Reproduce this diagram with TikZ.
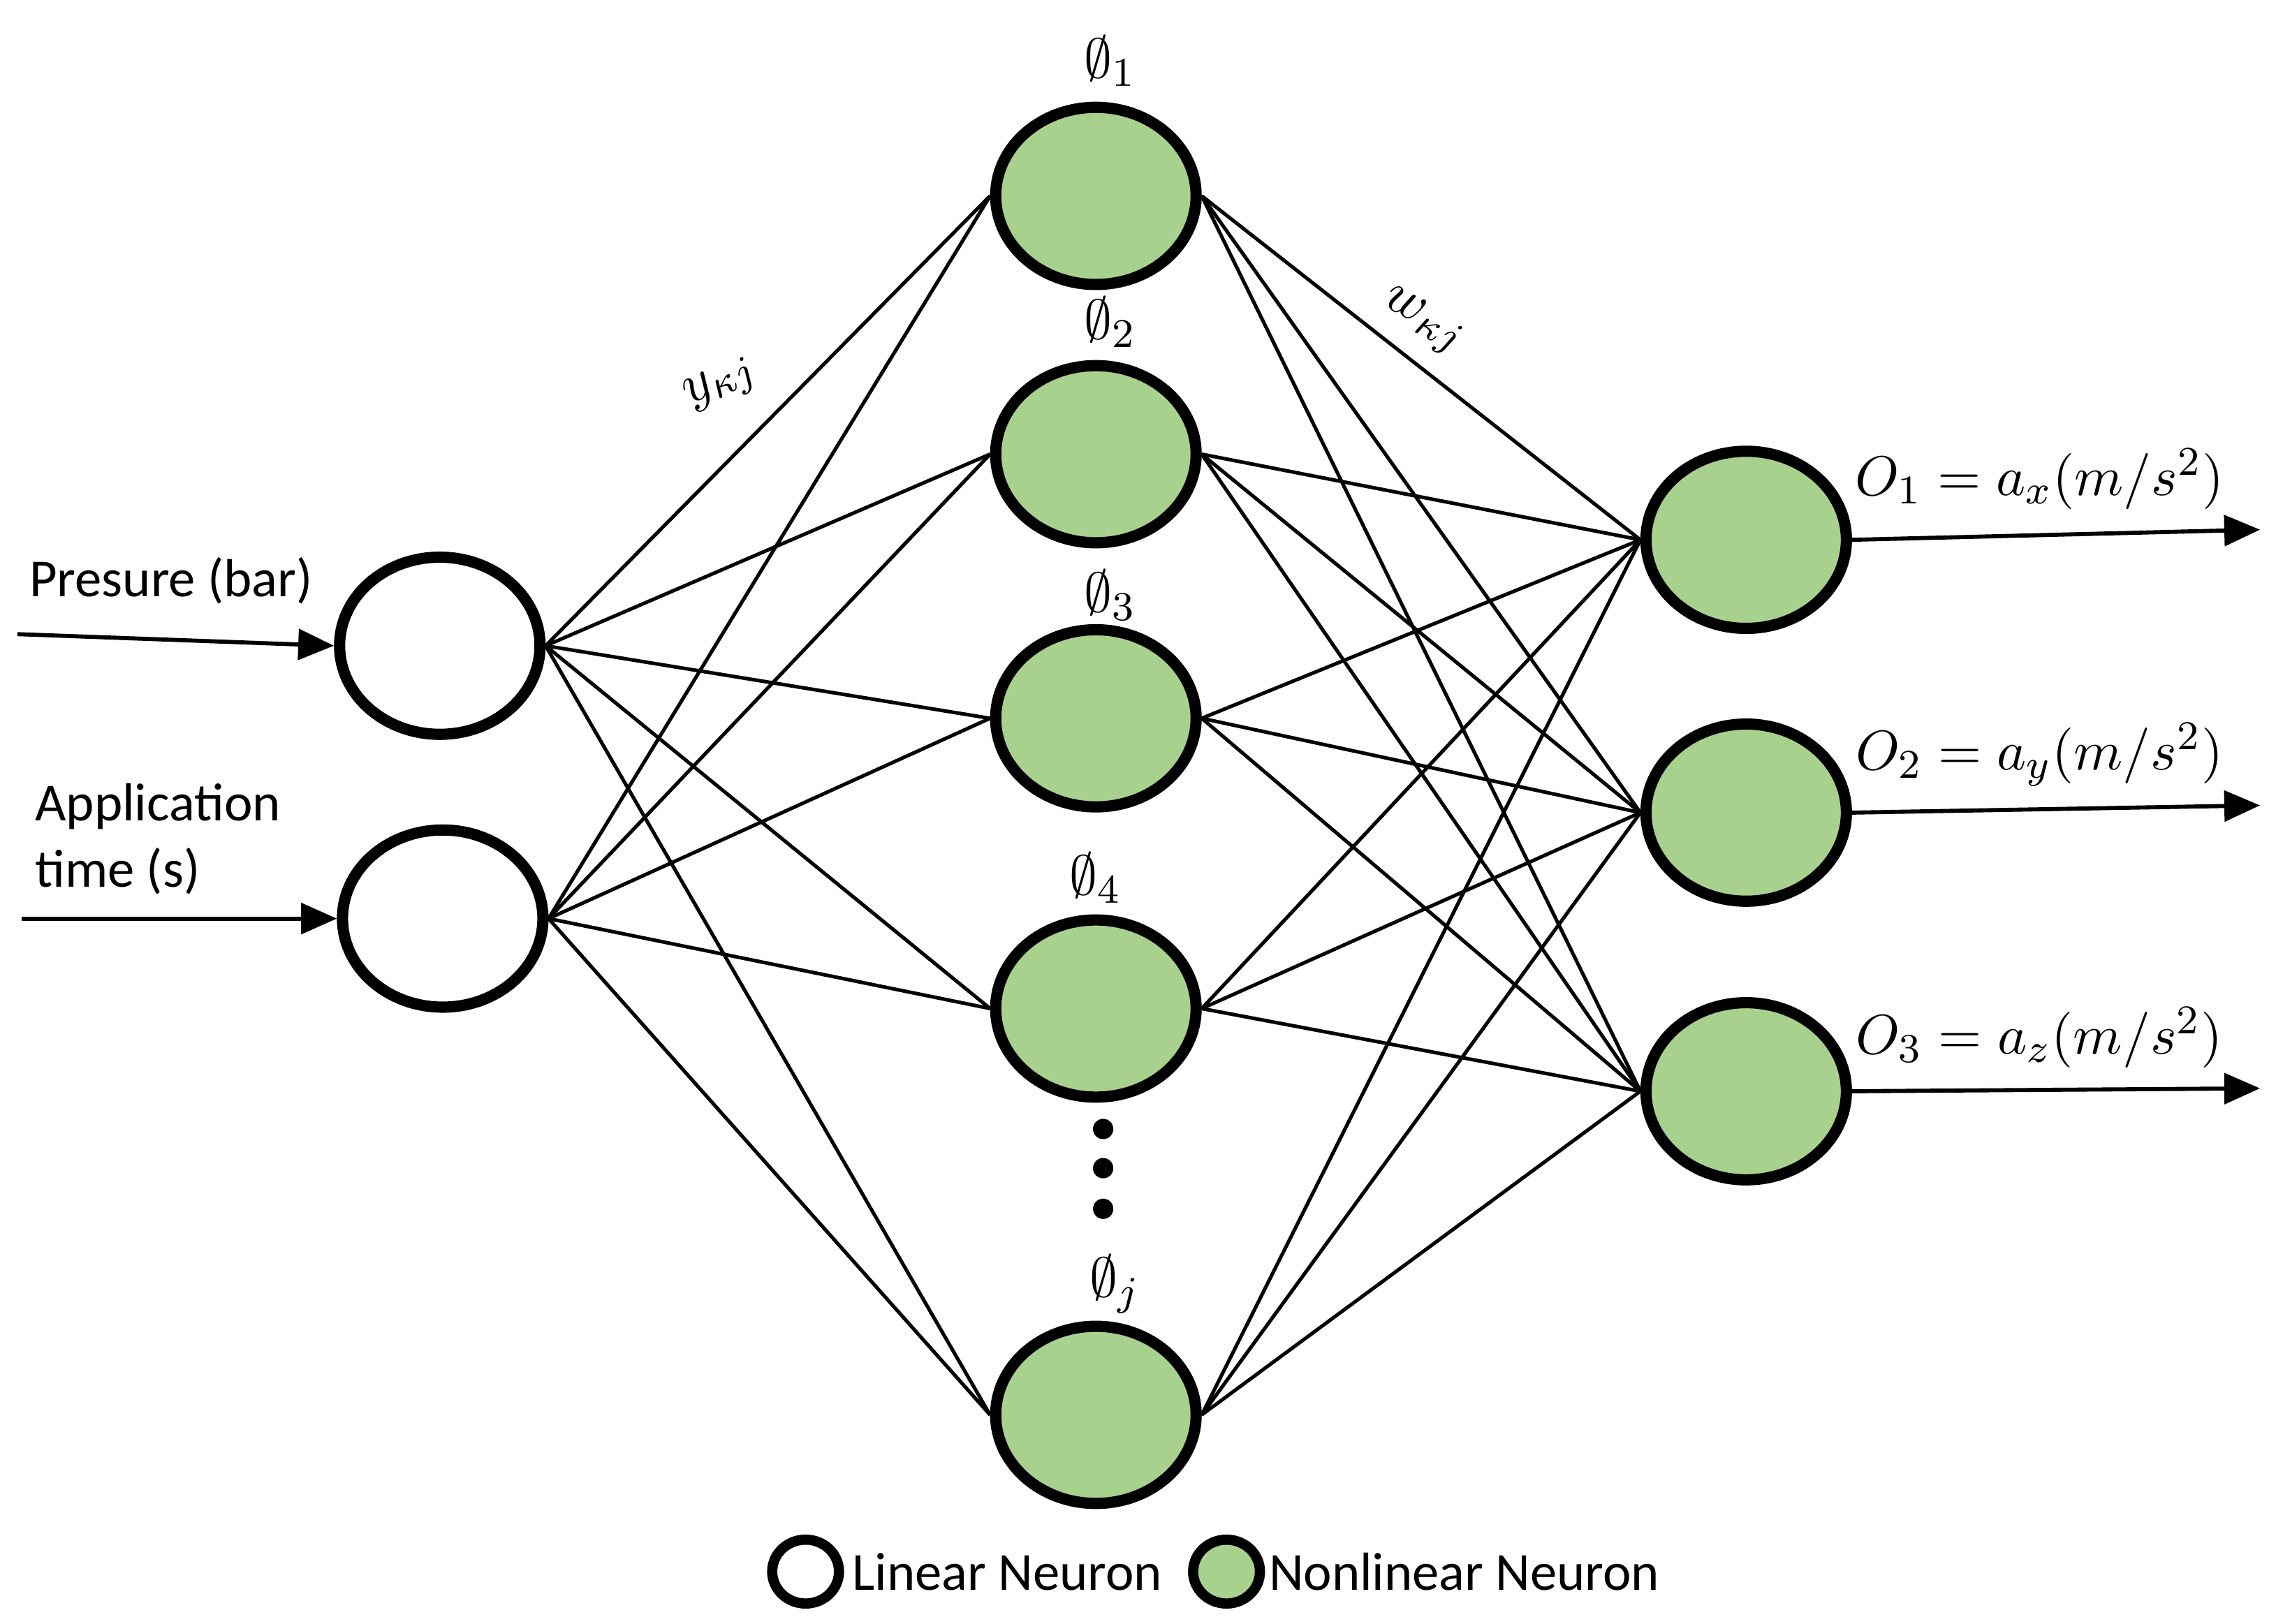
\documentclass[tikz,border=0pt]{standalone}
\usepackage{fontspec}
\setmainfont{Carlito}
\usetikzlibrary{shapes.geometric,arrows.meta}
\definecolor{ngreen}{HTML}{A9D18E}
\begin{document}
\begin{tikzpicture}[x=0.01cm,y=-0.01cm,
 neuron/.style={ellipse,draw,line width=2.2pt,minimum width=1.38cm,minimum height=1.22cm,inner sep=0pt},
 lin/.style={neuron,fill=white},
 nl/.style={neuron,fill=ngreen},
 edge/.style={line width=0.7pt},
 arr/.style={line width=0.8pt,-{Triangle[length=7pt,width=6pt]}},
 lab/.style={font=\fontsize{10.5}{13}\selectfont,inner sep=1pt},
 mlab/.style={font=\fontsize{11}{13}\selectfont,inner sep=1pt}]
\useasboundingbox (0,0) rectangle (1568,1119);
\node[lin] (i1) at (303,445) {};
\node[lin] (i2) at (305,633) {};
\foreach \n/\y in {1/135,2/313,3/495,4/695,5/975} \node[nl] (h\n) at (755,\y) {};
\foreach \n/\y in {1/372,2/560,3/752} \node[nl] (o\n) at (1203,\y) {};
\foreach \i in {1,2} \foreach \h in {1,...,5} \draw[edge] (i\i.east) -- (h\h.west);
\foreach \h in {1,...,5} \foreach \o in {1,2,3} \draw[edge] (h\h.east) -- (o\o.west);
\foreach \y in {778,805,833} \fill (760,\y) circle (7);
\node[mlab] (p1) at (765,42) {$\emptyset_1$};
\node[mlab] (p2) at (765,222) {$\emptyset_2$};
\node[mlab] (p3) at (765,410) {$\emptyset_3$};
\node[mlab] (p4) at (755,605) {$\emptyset_4$};
\node[mlab] (pj) at (768,885) {$\emptyset_j$};
\node[mlab,rotate=28] (y) at (497,265) {$y_{\kappa j}$};
\node[mlab,rotate=-28] (w) at (980,222) {$w_{\kappa j}$};
\coordinate (a1) at (12,437); \coordinate (a2) at (15,633);
\draw[arr] (a1) -- (i1.west);
\draw[arr] (a2) -- (i2.west);
\node[lab,anchor=west] (t1) at (16,400) {Presure (bar)};
\node[lab,anchor=west,align=left] (t2) at (20,578) {Application\\time (s)};
\foreach \n/\y/\c in {1/365/x,2/555/y,3/750/z}{
 \coordinate (e\n) at (1557,\y);
 \draw[arr] (o\n.east) -- (e\n);
 \node[mlab] at (1405,\y-35) {$O_\n=a_\c(m/s^2)$};}
\node[lin,line width=2pt,minimum width=0.46cm,minimum height=0.44cm] (l1) at (555,1083) {};
\node[lab,anchor=west] (l1t) at (583,1083) {Linear Neuron};
\node[nl,line width=2pt,minimum width=0.46cm,minimum height=0.44cm] (l2) at (845,1083) {};
\node[lab,anchor=west] (l2t) at (870,1083) {Nonlinear Neuron};
\end{tikzpicture}
\end{document}
